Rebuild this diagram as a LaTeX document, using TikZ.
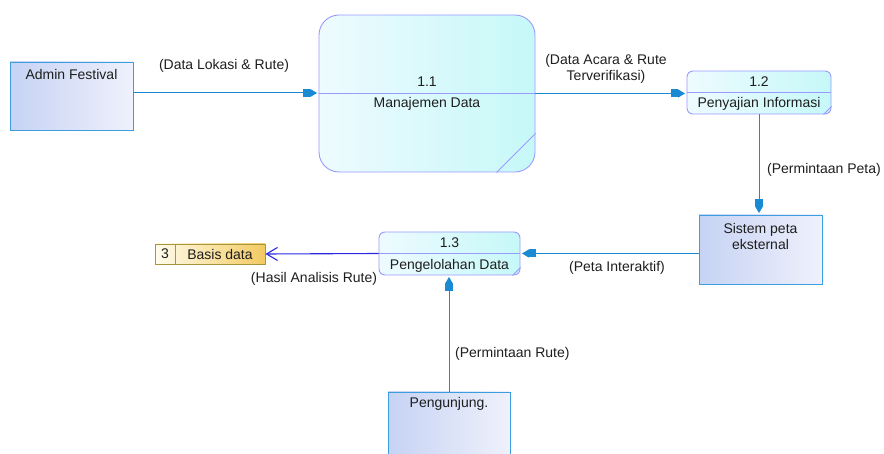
\documentclass[tikz,border=0pt]{standalone}
\usepackage{fontspec}
\setmainfont{Liberation Sans}
\usetikzlibrary{arrows.meta}
\definecolor{flow}{HTML}{1A8AD2}
\definecolor{entborder}{HTML}{3C9EE0}
\definecolor{entA}{HTML}{C6D3F3}
\definecolor{entB}{HTML}{EFF1FC}
\definecolor{procborder}{HTML}{9A9AFF}
\definecolor{procA}{HTML}{EEFBFF}
\definecolor{procB}{HTML}{C6F8F8}
\definecolor{storeborder}{HTML}{A8963A}
\definecolor{storeA}{HTML}{FFFCEC}
\definecolor{storeB}{HTML}{F2CA62}
\definecolor{storeflow}{HTML}{2828E0}
\definecolor{txt}{HTML}{1E1E1E}
\tikzset{
  entity/.style={draw=entborder, line width=0.9pt, left color=entA, right color=entB, inner sep=0pt},
  process/.style={draw=procborder, line width=0.9pt, left color=procA, right color=procB, inner sep=0pt},
  store/.style={draw=storeborder, line width=0.9pt, left color=storeA, right color=storeB, inner sep=0pt},
  flowline/.style={draw=flow, line width=1pt, -{Rectangle[length=7pt,width=8pt]Triangle[length=7pt,width=8pt]}, shorten >=1.5pt},
  storeline/.style={draw=storeflow, line width=1.1pt, -{Straight Barb[length=11pt,width=13pt,line width=1.1pt]}},
  lbl/.style={text=txt, inner sep=0pt},
  divider/.style={draw=procborder, line width=0.9pt},
}
\begin{document}
\begin{tikzpicture}[x=1pt,y=-1pt, font=\fontsize{14}{16}\selectfont]
\useasboundingbox (0,0) rectangle (884,454);
\clip (0,0) rectangle (884,454);

% entities
\node[entity, minimum width=123pt, minimum height=68pt] (admin) at (71.5,96) {};
\node[lbl] (admint) at (71.5,74) {Admin Festival};

\node[entity, minimum width=123pt, minimum height=69pt] (sistem) at (760.5,249.5) {};
\node[lbl, align=center] (sistemt) at (760.5,236) {Sistem peta\\eksternal};

\node[entity, minimum width=122pt, minimum height=80pt] (pengunjung) at (449,432) {};
\node[lbl] (pengunjungt) at (449,404) {Pengunjung.};

% processes
\node[process, rounded corners=20pt, minimum width=216pt, minimum height=157pt] (mgmt) at (427,93.5) {};
\draw[divider] (mgmt.west) -- (mgmt.east);
\draw[divider] ([xshift=-39pt]mgmt.south east) -- ([yshift=39pt]mgmt.south east);
\node[lbl] (mgmtn) at (427,82) {1.1};
\node[lbl] (mgmtt) at (427,104) {Manajemen Data};

\node[process, rounded corners=6pt, minimum width=144pt, minimum height=43pt] (saji) at (759,92.5) {};
\draw[divider] (saji.west) -- (saji.east);
\draw[divider] ([xshift=-8pt]saji.south east) -- ([yshift=8pt]saji.south east);
\node[lbl] (sajin) at (759,82) {1.2};
\node[lbl] (sajit) at (759,104) {Penyajian Informasi};

\node[process, rounded corners=6pt, minimum width=141pt, minimum height=43pt] (olah) at (449.5,253.5) {};
\draw[divider] (olah.west) -- (olah.east);
\draw[divider] ([xshift=-8pt]olah.south east) -- ([yshift=8pt]olah.south east);
\node[lbl] (olahn) at (449.5,243) {1.3};
\node[lbl] (olaht) at (449.5,266) {Pengelolahan Data};

% data store
\node[store, minimum width=110pt, minimum height=20pt] (basis) at (210,254) {};
\coordinate (bdiv) at (175,254);
\draw[draw=storeborder, line width=0.9pt] (bdiv |- basis.north) -- (bdiv |- basis.south);
\node[lbl] (basisn) at (165,254) {3};
\node[lbl] (basist) at (220,254) {Basis data};

% flows
\draw[flowline] ([yshift=3pt]admin.east) -- ([yshift=3pt]admin.east -| mgmt.west);
\node[lbl] (f1) at (224,66) {(Data Lokasi \& Rute)};

\draw[flowline] (mgmt.east) -- (mgmt.east -| saji.west);
\node[lbl, align=center] (f2) at (606,69) {(Data Acara \& Rute\\Terverifikasi)};

\draw[flowline] (saji.south) -- (saji.south |- sistem.north);
\node[lbl, anchor=west] (f3) at (767,170) {(Permintaan Peta)};

\draw[flowline] (sistem.west |- olah.east) -- (olah.east);
\node[lbl] (f4) at (617,268) {(Peta Interaktif)};

\draw[storeline] (olah.west) -- (basis.east);
\node[lbl] (f5) at (314,279) {(Hasil Analisis Rute)};

\draw[flowline] (pengunjung.north) -- (pengunjung.north |- olah.south);
\node[lbl, anchor=west] (f6) at (455,354) {(Permintaan Rute)};
\end{tikzpicture}
\end{document}
